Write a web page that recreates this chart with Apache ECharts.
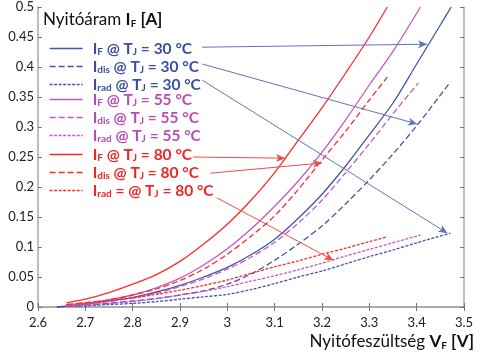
<!DOCTYPE html>
<html>
<head>
<meta charset="utf-8">
<script src="https://cdn.jsdelivr.net/npm/echarts@6/dist/echarts.min.js"></script>
</head>
<body style="margin:0">
<div id="main" style="width:484px;height:355px;"></div>
<script>
// forward current vs voltage, [V, A] pairs
var if30   = [[2.64,0],[2.70,0.005],[2.75,0.01],[2.80,0.016],[2.85,0.025],[2.90,0.036],[2.95,0.05],[3.00,0.066],[3.05,0.087],[3.10,0.113],[3.15,0.148],[3.20,0.188],[3.25,0.235],[3.30,0.287],[3.35,0.34],[3.40,0.405],[3.45,0.47],[3.473,0.5]];
var idis30 = [[2.64,0],[2.70,0.003],[2.75,0.006],[2.80,0.01],[2.85,0.014],[2.90,0.02],[2.95,0.027],[3.00,0.038],[3.05,0.055],[3.10,0.078],[3.15,0.105],[3.20,0.135],[3.25,0.172],[3.30,0.212],[3.35,0.255],[3.40,0.302],[3.45,0.353],[3.471,0.375]];
var irad30 = [[2.64,0],[2.70,0.002],[2.75,0.004],[2.80,0.006],[2.85,0.009],[2.90,0.013],[2.95,0.017],[3.00,0.021],[3.05,0.029],[3.10,0.039],[3.15,0.05],[3.20,0.06],[3.25,0.072],[3.30,0.084],[3.35,0.095],[3.40,0.107],[3.471,0.123]];

var if55   = [[2.66,0.002],[2.70,0.006],[2.75,0.012],[2.80,0.02],[2.85,0.032],[2.90,0.048],[2.95,0.07],[3.00,0.097],[3.05,0.13],[3.10,0.168],[3.15,0.21],[3.20,0.258],[3.25,0.312],[3.30,0.37],[3.35,0.426],[3.408,0.5]];
var idis55 = [[2.66,0.002],[2.70,0.005],[2.75,0.009],[2.80,0.015],[2.85,0.023],[2.90,0.034],[2.95,0.047],[3.00,0.063],[3.05,0.083],[3.10,0.108],[3.15,0.14],[3.20,0.178],[3.25,0.224],[3.30,0.272],[3.35,0.322],[3.403,0.373]];
var irad55 = [[2.66,0.001],[2.70,0.003],[2.75,0.006],[2.80,0.009],[2.85,0.014],[2.90,0.02],[2.95,0.026],[3.00,0.034],[3.05,0.043],[3.10,0.052],[3.15,0.062],[3.20,0.073],[3.25,0.085],[3.30,0.096],[3.35,0.107],[3.408,0.12]];

var if80   = [[2.66,0.007],[2.70,0.013],[2.75,0.024],[2.80,0.038],[2.85,0.054],[2.90,0.076],[2.95,0.105],[3.00,0.138],[3.05,0.178],[3.10,0.224],[3.15,0.278],[3.20,0.332],[3.25,0.39],[3.30,0.45],[3.338,0.5]];
var idis80 = [[2.66,0.004],[2.70,0.007],[2.75,0.012],[2.80,0.02],[2.85,0.03],[2.90,0.044],[2.95,0.063],[3.00,0.088],[3.05,0.118],[3.10,0.152],[3.15,0.196],[3.20,0.245],[3.25,0.293],[3.30,0.345],[3.338,0.383]];
var irad80 = [[2.66,0.004],[2.70,0.007],[2.75,0.011],[2.80,0.015],[2.85,0.021],[2.90,0.028],[2.95,0.036],[3.00,0.045],[3.05,0.056],[3.10,0.067],[3.15,0.077],[3.20,0.088],[3.25,0.098],[3.30,0.109],[3.338,0.117]];

// arrows from the legend text to the curves, [from, to] in data units
var arrows30 = [[[2.947,0.433],[3.422,0.438]], [[2.947,0.405],[3.401,0.305]], [[2.947,0.378],[3.465,0.123]]];
var arrows80 = [[[2.928,0.25],[3.122,0.248]], [[2.964,0.223],[3.200,0.240]], [[2.978,0.182],[3.224,0.078]]];

var blue = '#4256ab', magenta = '#c458c0', red = '#ff2a2a';
var blueTxt = '#3b4f9f', magentaTxt = '#b94db4', redTxt = '#f02525';

var labels = {
  IF30:   '{b|I}{s|F}{b| @ T}{s|J}{b| = 30 °C}',
  Idis30: '{b|I}{s|dis}{b| @ T}{s|J}{b| = 30 °C}',
  Irad30: '{b|I}{s|rad}{b| @ T}{s|J}{b| = 30 °C}',
  IF55:   '{b|I}{s|F}{b| @ T}{s|J}{b| = 55 °C}',
  Idis55: '{b|I}{s|dis}{b| @ T}{s|J}{b| = 55 °C}',
  Irad55: '{b|I}{s|rad}{b| @ T}{s|J}{b| = 55 °C}',
  IF80:   '{b|I}{s|F}{b| @ T}{s|J}{b| = 80 °C}',
  Idis80: '{b|I}{s|dis}{b| @ T}{s|J}{b| = 80 °C}',
  Irad80: '{b|I}{s|rad}{b| = @ T}{s|J}{b| = 80 °C}'
};

var richTxt = {
  b: { fontWeight: 'bold', fontSize: 15.5, lineHeight: 16, fontFamily: 'Lato' },
  s: { fontWeight: 'bold', fontSize: 10, lineHeight: 10, padding: [7, 0, 0, 0], fontFamily: 'Lato' }
};

function mkSeries(name, data, color, dash, arrows, arrowColor) {
  var s = {
    name: name, type: 'line', data: data, smooth: 0.3, symbol: 'none',
    lineStyle: { color: color, width: 1.3, type: dash },
    itemStyle: { color: color },
    z: 3
  };
  if (arrows) {
    s.markLine = {
      silent: true, symbol: ['none', 'arrow'], symbolSize: [6, 9],
      label: { show: false },
      lineStyle: { color: arrowColor, width: 1, type: 'solid' },
      data: arrows.map(function (a) { return [{ coord: a[0] }, { coord: a[1] }]; })
    };
  }
  return s;
}

function mkLegend(names, top, color) {
  return {
    data: names, orient: 'vertical', left: 49, top: top, padding: 0,
    itemWidth: 33, itemHeight: 14, itemGap: 1, selectedMode: false,
    itemStyle: { opacity: 0 },
    lineStyle: { width: 1.3 },
    textStyle: { color: color, padding: [0, 0, 0, 5], rich: richTxt },
    formatter: function (n) { return labels[n]; }
  };
}

var axisLine = { lineStyle: { color: '#a8a8a8', width: 1.5 } };
var tick = { inside: true, length: 4, lineStyle: { color: '#777' } };
var lbl = { color: '#222', fontSize: 13, fontFamily: 'Lato' };

var myChart = echarts.init(document.getElementById('main'));
myChart.setOption({
  animation: false,
  grid: { left: 38, right: 20, top: 7, bottom: 48 },
  xAxis: [
    { type: 'value', min: 2.6, max: 3.5, interval: 0.1, axisLine: axisLine, axisTick: tick,
      axisLabel: Object.assign({ margin: 9 }, lbl), splitLine: { show: false } },
    { type: 'value', position: 'top', min: 2.6, max: 3.5, interval: 0.1, axisLine: axisLine, axisTick: tick,
      axisLabel: { show: false }, splitLine: { show: false } }
  ],
  yAxis: [
    { type: 'value', min: 0, max: 0.5, interval: 0.05, axisLine: Object.assign({ show: true }, axisLine), axisTick: tick,
      axisLabel: Object.assign({ margin: 4 }, lbl), splitLine: { show: false } },
    { type: 'value', position: 'right', min: 0, max: 0.5, interval: 0.05, axisLine: Object.assign({ show: true }, axisLine), axisTick: tick,
      axisLabel: { show: false }, splitLine: { show: false } }
  ],
  legend: [
    mkLegend(['IF30', 'Idis30', 'Irad30'], 40, blueTxt),
    mkLegend(['IF55', 'Idis55', 'Irad55'], 91, magentaTxt),
    mkLegend(['IF80', 'Idis80', 'Irad80'], 146, redTxt)
  ],
  graphic: [
    { type: 'text', left: 43, top: 11, z: 10, style: {
      text: '{n|Nyitóáram }{b|I}{s|F}{b| [A]}', fill: '#111',
      rich: { n: { fontSize: 17, fontFamily: 'Lato' }, b: { fontSize: 17, fontWeight: 'bold', fontFamily: 'Lato' },
              s: { fontSize: 10, fontWeight: 'bold', fontFamily: 'Lato', padding: [8, 0, 0, 0] } } } },
    { type: 'text', right: 10, top: 333, z: 10, style: {
      text: '{n|Nyitófeszültség }{b|V}{s|F}{b| [V]}', fill: '#111',
      rich: { n: { fontSize: 17, fontFamily: 'Lato' }, b: { fontSize: 17, fontWeight: 'bold', fontFamily: 'Lato' },
              s: { fontSize: 10, fontWeight: 'bold', fontFamily: 'Lato', padding: [8, 0, 0, 0] } } } }
  ],
  series: [
    mkSeries('IF30', if30, blue, 'solid', arrows30, '#6272bd'),
    mkSeries('Idis30', idis30, blue, [6, 3]),
    mkSeries('Irad30', irad30, blue, [3, 1.5]),
    mkSeries('IF55', if55, magenta, 'solid'),
    mkSeries('Idis55', idis55, magenta, [6, 3]),
    mkSeries('Irad55', irad55, magenta, [3, 1.5]),
    mkSeries('IF80', if80, red, 'solid', arrows80, '#f24a4a'),
    mkSeries('Idis80', idis80, red, [6, 3]),
    mkSeries('Irad80', irad80, red, [3, 1.5])
  ]
});
</script>
</body>
</html>
